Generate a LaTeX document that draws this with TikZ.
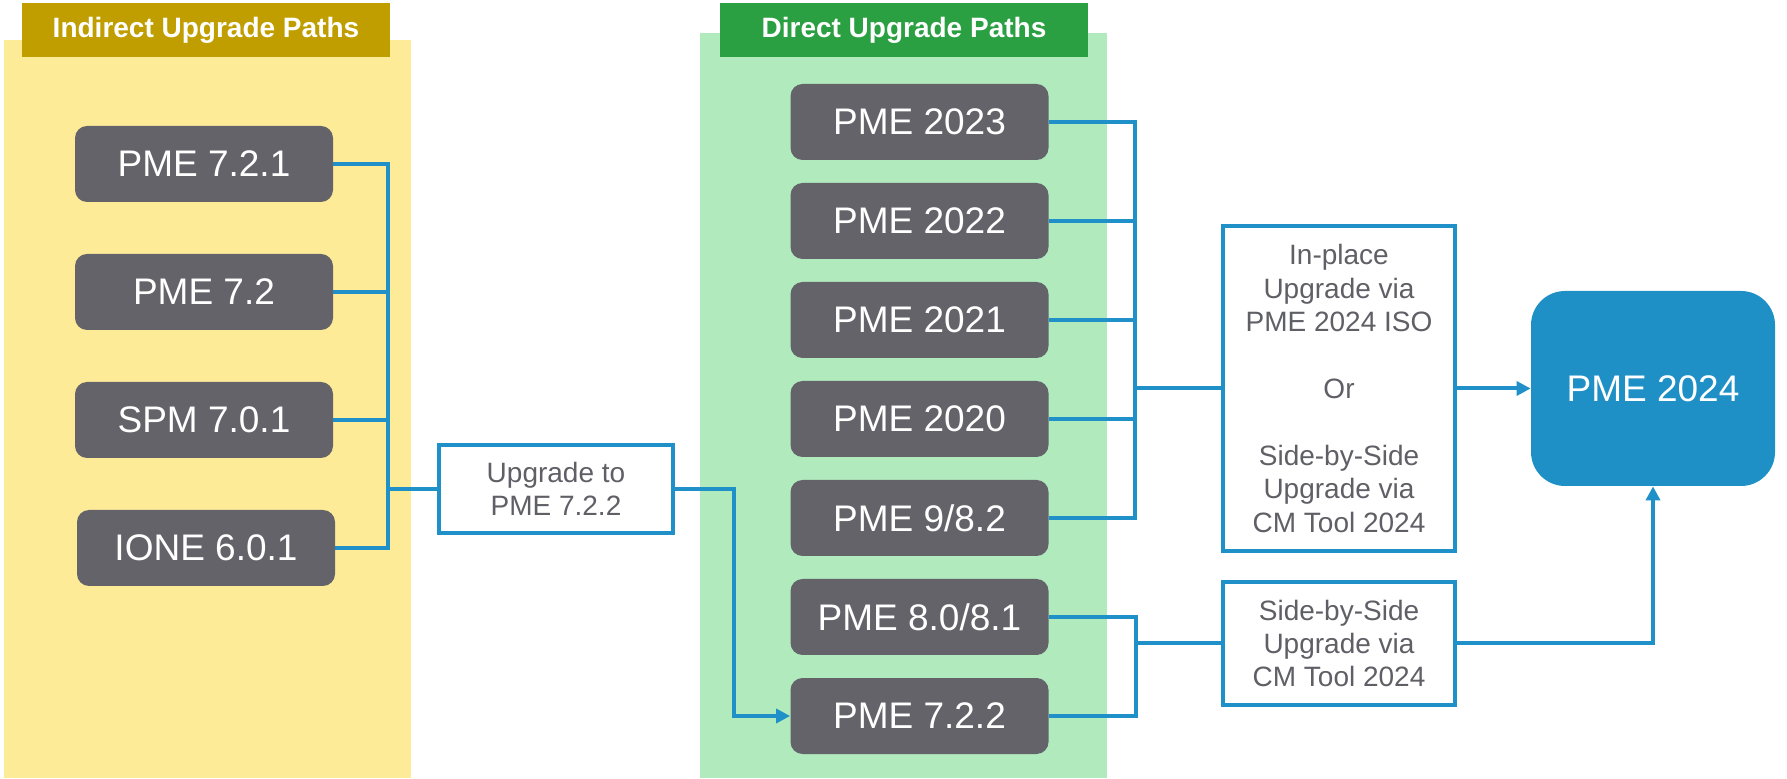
\documentclass[tikz,border=0pt]{standalone}
\usepackage{fontspec}
\setmainfont{Liberation Sans}
\usepackage{xcolor}
\usepackage{tikz}
\usetikzlibrary{arrows.meta,positioning,calc}
\definecolor{boxgray}{HTML}{636369}
\definecolor{txtgray}{HTML}{5F5F66}
\definecolor{linkblue}{HTML}{1F91C8}
\definecolor{targetblue}{HTML}{1E90C6}
\definecolor{sand}{HTML}{FEEB98}
\definecolor{gold}{HTML}{C19E00}
\definecolor{leaf}{HTML}{B0EABD}
\definecolor{grass}{HTML}{2AA042}
\tikzset{
  release/.style={fill=boxgray,rounded corners=6pt,text=white,inner sep=0pt,minimum width=129pt,minimum height=38pt,font=\fontsize{18.5}{22}\selectfont},
  route/.style={draw=linkblue,line width=2pt,fill=white,text=txtgray,align=center,inner sep=0pt,minimum width=116pt,font=\fontsize{14}{16.7}\selectfont},
  target/.style={fill=targetblue,rounded corners=17pt,text=white,inner sep=0pt,minimum width=122pt,minimum height=97.5pt,font=\fontsize{18.5}{22}\selectfont},
  ypanel/.style={fill=sand,inner sep=0pt,minimum width=203.5pt,minimum height=369pt},
  gpanel/.style={fill=leaf,inner sep=0pt,minimum width=203.5pt,minimum height=372.5pt},
  hdr/.style={inner sep=0pt,minimum width=184pt,minimum height=27pt,text=white,font=\fontsize{14}{16}\selectfont\bfseries},
  link/.style={draw=linkblue,line width=2pt},
  flow/.style={link,-{Triangle[length=7pt,width=7pt]}}
}
\begin{document}
\begin{tikzpicture}[x=0.5pt,y=-0.5pt]
  \useasboundingbox (0,0) rectangle (1787,779);
  \node[ypanel] (indpanel) at (207.5,409) {};
  \node[gpanel] (dirpanel) at (903.5,405.5) {};
  \node[hdr,fill=gold] (indhead) at (206,30) {Indirect Upgrade Paths};
  \node[hdr,fill=grass] (dirhead) at (904,30) {Direct Upgrade Paths};

  \node[release] (v721) at (204,164) {PME 7.2.1};
  \node[release] (v72) at (204,292) {PME 7.2};
  \node[release] (spm) at (204,420) {SPM 7.0.1};
  \node[release] (ione) at (206,548) {IONE 6.0.1};

  \node[route,minimum width=117pt,minimum height=44pt] (upg) at (556,489) {Upgrade to\\PME 7.2.2};

  \node[release] (d2023) at (919.5,122) {PME 2023};
  \node[release] (d2022) at (919.5,221) {PME 2022};
  \node[release] (d2021) at (919.5,320) {PME 2021};
  \node[release] (d2020) at (919.5,419) {PME 2020};
  \node[release] (d982) at (919.5,518) {PME 9/8.2};
  \node[release] (d801) at (919.5,617) {PME 8.0/8.1};
  \node[release] (d722) at (919.5,716) {PME 7.2.2};

  \node[route,minimum height=162.5pt] (inplace) at (1339,388.5) {In-place\\Upgrade via\\PME 2024 ISO\\[16.7pt]Or\\[16.7pt]Side-by-Side\\Upgrade via\\CM Tool 2024};
  \node[route,minimum height=61.5pt] (sbs) at (1339,643.5) {Side-by-Side\\Upgrade via\\CM Tool 2024};
  \node[target] (pme24) at (1653,388.5) {PME 2024};

  \coordinate (jl) at (388,489);
  \coordinate (jd) at (1135,388.5);
  \coordinate (jb) at (1136,643.5);

  \draw[link] (v721.east) -| (jl);
  \draw[link] (v72.east) -| (jl);
  \draw[link] (spm.east) -| (jl);
  \draw[link] (ione.east) -| (jl);
  \draw[link] (jl) -- (upg.west);
  \draw[flow] (upg.east) -- ++(59,0) |- (d722.west);

  \draw[link] (d2023.east) -| (jd);
  \draw[link] (d2022.east) -| (jd);
  \draw[link] (d2021.east) -| (jd);
  \draw[link] (d2020.east) -| (jd);
  \draw[link] (d982.east) -| (jd);
  \draw[link] (jd) -- (inplace.west);
  \draw[flow] (inplace.east) -- (pme24.west);

  \draw[link] (d801.east) -| (jb);
  \draw[link] (d722.east) -| (jb);
  \draw[link] (jb) -- (sbs.west);
  \draw[flow] (sbs.east) -| (pme24.south);
\end{tikzpicture}
\end{document}
